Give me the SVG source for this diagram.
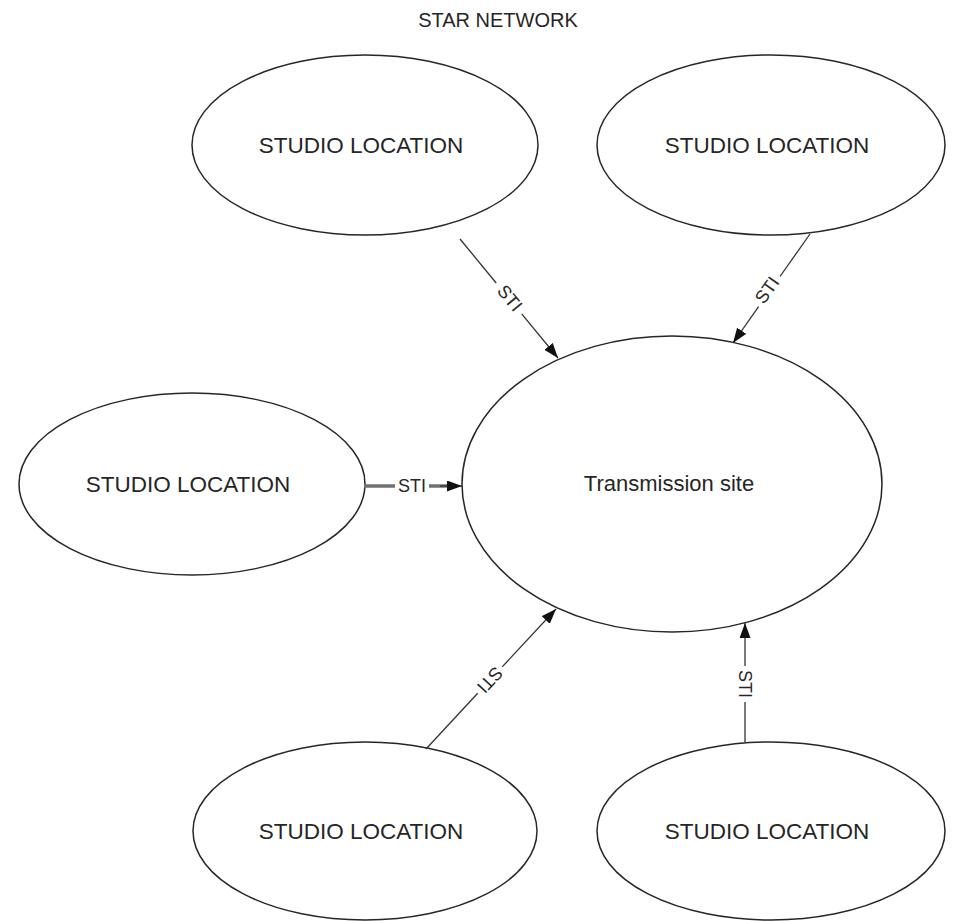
<svg xmlns="http://www.w3.org/2000/svg" width="953" height="921" viewBox="0 0 953 921">
  <style>
    .node { fill: #ffffff; stroke: #262626; stroke-width: 1.5; }
    .lbl { font-family: "Liberation Sans", Arial, sans-serif; font-size: 22.5px; fill: #262626; text-anchor: middle; }
    .title { font-family: "Liberation Sans", Arial, sans-serif; font-size: 20px; fill: #262626; text-anchor: middle; }
    .edge { fill: none; stroke: #333333; stroke-width: 1.3; }
    .edge-thick { fill: none; stroke: #707070; stroke-width: 3.5; }
    .sti { font-family: "Liberation Sans", Arial, sans-serif; font-size: 18px; fill: #262626; text-anchor: middle; }
  </style>
  <defs>
    <marker id="arrow" markerUnits="userSpaceOnUse" markerWidth="15" markerHeight="11" refX="15" refY="5.5" orient="auto">
      <path d="M0,0 L15,5.5 L0,11 z" fill="#111111"/>
    </marker>
  </defs>
  <rect width="953" height="921" fill="#ffffff"/>

  <text class="title" x="498" y="27">STAR NETWORK</text>

  <g id="node-transmission">
    <ellipse class="node" cx="672" cy="484" rx="210" ry="148"/>
    <text class="lbl" x="669" y="491" style="font-size:22px">Transmission site</text>
  </g>
  <g id="node-studio-top-left">
    <ellipse class="node" cx="365" cy="145" rx="173" ry="90"/>
    <text class="lbl" x="361" y="153">STUDIO LOCATION</text>
  </g>
  <g id="node-studio-top-right">
    <ellipse class="node" cx="771" cy="145" rx="174" ry="90"/>
    <text class="lbl" x="767" y="153">STUDIO LOCATION</text>
  </g>
  <g id="node-studio-mid-left">
    <ellipse class="node" cx="192" cy="484" rx="173" ry="91"/>
    <text class="lbl" x="188" y="492">STUDIO LOCATION</text>
  </g>
  <g id="node-studio-bottom-left">
    <ellipse class="node" cx="365" cy="831" rx="172" ry="89"/>
    <text class="lbl" x="361" y="839">STUDIO LOCATION</text>
  </g>
  <g id="node-studio-bottom-right">
    <ellipse class="node" cx="771" cy="831" rx="174" ry="89"/>
    <text class="lbl" x="767" y="839">STUDIO LOCATION</text>
  </g>

  <g id="connectors">
    <g id="edge-top-left">
      <line class="edge" x1="460" y1="239" x2="496.2" y2="283"/>
      <line class="edge" x1="521.7" y1="313.9" x2="558" y2="358" marker-end="url(#arrow)"/>
      <text class="sti" transform="translate(510,298) rotate(50.5)" dy="0.35em">STI</text>
    </g>
    <g id="edge-top-right">
      <line class="edge" x1="810" y1="234" x2="780" y2="276.5"/>
      <line class="edge" x1="758.6" y1="306.7" x2="733" y2="343" marker-end="url(#arrow)"/>
      <text class="sti" transform="translate(767,290) rotate(-54.8)" dy="0.35em">STI</text>
    </g>
    <g id="edge-mid-left">
      <line class="edge-thick" x1="364" y1="486" x2="395" y2="486"/>
      <line class="edge-thick" x1="429" y1="486" x2="452" y2="486"/>
      <line class="edge" x1="440" y1="486" x2="462" y2="486" marker-end="url(#arrow)"/>
      <text class="sti" x="412" y="492">STI</text>
    </g>
    <g id="edge-bottom-left">
      <line class="edge" x1="426" y1="749" x2="477.7" y2="693.3"/>
      <line class="edge" x1="502.2" y1="666.9" x2="556" y2="609" marker-end="url(#arrow)"/>
      <text class="sti" transform="translate(490,680) rotate(132.9)" dy="0.35em">STI</text>
    </g>
    <g id="edge-bottom-right">
      <line class="edge" x1="745" y1="742" x2="745" y2="702"/>
      <line class="edge" x1="745" y1="666" x2="745" y2="623" marker-end="url(#arrow)"/>
      <text class="sti" transform="translate(745,684) rotate(90)" dy="0.35em">STI</text>
    </g>
  </g>
</svg>
